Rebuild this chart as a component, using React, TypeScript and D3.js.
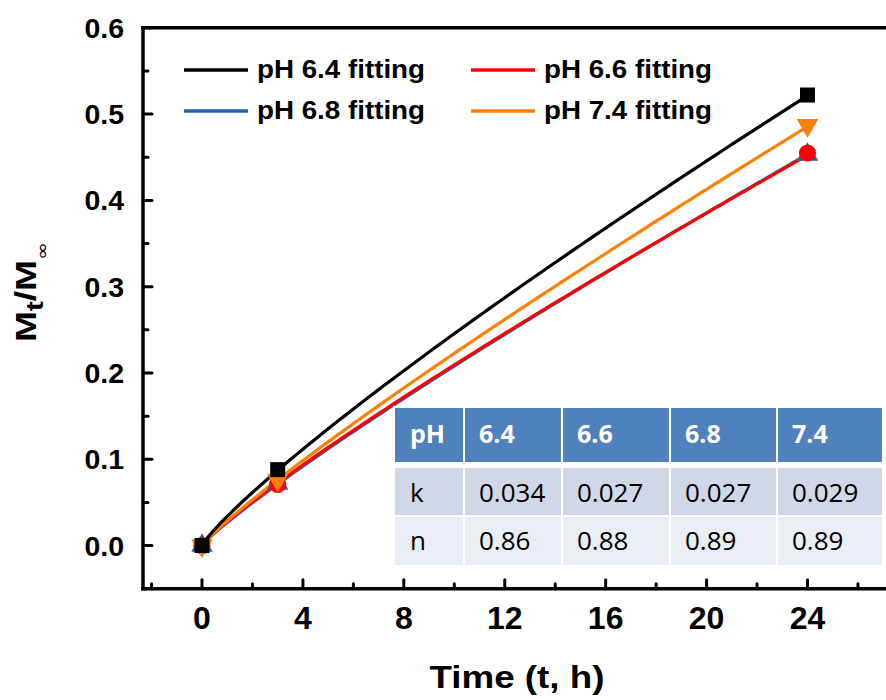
import React from 'react';
import * as d3 from 'd3';

// ---- data ----
const phLabels = ['6.4', '6.6', '6.8', '7.4'];
const kLabels = ['0.034', '0.027', '0.027', '0.029'];
const nLabels = ['0.86', '0.88', '0.89', '0.89'];
// fitted-curve parameters (k read so that each curve meets its 24 h point as drawn)
const kFit = [0.0339, 0.0276, 0.0268, 0.0287];
const nFit = [0.86, 0.88, 0.89, 0.89];
const times = [0, 3, 24];
const release64 = [0, 0.088, 0.522];
const release66 = [0, 0.071, 0.455];
const release68 = [0, 0.072, 0.453];
const release74 = [0, 0.076, 0.487];
const xTicks = [0, 4, 8, 12, 16, 20, 24];
const yTicks = [0, 0.1, 0.2, 0.3, 0.4, 0.5, 0.6];

const W = 886;
const H = 700;
const FONT = '"Liberation Sans", Arial, sans-serif';

type Marker = 'square' | 'circle' | 'triUp' | 'triDown';

export default function App() {
  const x = d3.scaleLinear().domain([0, 24]).range([202, 807.5]);
  const y = d3.scaleLinear().domain([0, 0.6]).range([545.6, 27.8]);
  const xMin = x.invert(143);
  const xMax = x.invert(W);
  const yMin = -0.05;
  const left = x(xMin);
  const right = x(xMax);
  const bottom = y(yMin);
  const top = y(0.6);

  const series = [
    { name: 'pH 6.8', color: '#1f62b8', marker: 'triUp' as Marker, k: kFit[2], n: nFit[2], vals: release68 },
    { name: 'pH 6.6', color: '#ff0000', marker: 'circle' as Marker, k: kFit[1], n: nFit[1], vals: release66 },
    { name: 'pH 7.4', color: '#ff8000', marker: 'triDown' as Marker, k: kFit[3], n: nFit[3], vals: release74 },
    { name: 'pH 6.4', color: '#000000', marker: 'square' as Marker, k: kFit[0], n: nFit[0], vals: release64 },
  ];

  const tGrid = d3.range(0, 24.001, 0.2);

  const symbolPath = (m: Marker) => {
    if (m === 'square') return d3.symbol(d3.symbolSquare, 225)();
    if (m === 'circle') return d3.symbol(d3.symbolCircle, 230)();
    return d3.symbol(d3.symbolTriangle, 200)();
  };

  const xMinor = d3.range(-2, 27, 2).filter((v) => v % 4 !== 0);
  const yMinor = d3.range(-0.05, 0.6, 0.1);

  const legendItems = [
    { label: 'pH 6.4 fitting', color: '#000000', lx: 184, ty: 70 },
    { label: 'pH 6.6 fitting', color: '#ff0000', lx: 471, ty: 70 },
    { label: 'pH 6.8 fitting', color: '#1f62b8', lx: 184, ty: 111 },
    { label: 'pH 7.4 fitting', color: '#ff8000', lx: 471, ty: 111 },
  ];

  // table layout
  const colEdges = [395, 465, 563, 671, 778, 884];
  const rowEdges = [[408, 462], [468, 515], [517, 565]];
  const rowFills = ['#4f81bd', '#d0d8e8', '#e9edf4'];
  const rows = [
    ['pH', ...phLabels],
    ['k', ...kLabels],
    ['n', ...nLabels],
  ];
  const baselines = [443, 502, 550];

  return (
    <svg width={W} height={H} style={{ position: 'absolute', left: 0, top: 0, background: '#fff' }}>
      <rect x={0} y={0} width={W} height={H} fill="#fff" />
      <defs>
        <clipPath id="plotclip">
          <rect x={left} y={top - 20} width={right - left} height={bottom - top + 20} />
        </clipPath>
      </defs>

      {/* curves */}
      <g clipPath="url(#plotclip)">
        {series.map((s) => {
          const path = d3
            .line<number>()
            .x((t) => x(t))
            .y((t) => y(s.k * Math.pow(t, s.n)))(tGrid);
          return <path key={s.name} d={path || ''} fill="none" stroke={s.color} strokeWidth={3.2} />;
        })}
        {series.map((s) =>
          times.map((t, i) => {
            const cx = x(t);
            const cy = y(s.vals[i]);
            const rot = s.marker === 'triDown' ? 180 : 0;
            return (
              <path
                key={s.name + i}
                d={symbolPath(s.marker) || ''}
                transform={`translate(${cx},${cy}) rotate(${rot})`}
                fill={s.color}
              />
            );
          })
        )}
      </g>

      {/* table */}
      <rect x={colEdges[0] - 2} y={rowEdges[0][0] - 2} width={colEdges[5] - colEdges[0] + 4} height={rowEdges[2][1] - rowEdges[0][0] + 4} fill="#fff" />
      {rows.map((r, ri) =>
        r.map((cell, ci) => (
          <g key={`${ri}-${ci}`}>
            <rect
              x={colEdges[ci]}
              y={rowEdges[ri][0]}
              width={colEdges[ci + 1] - colEdges[ci] - 2}
              height={rowEdges[ri][1] - rowEdges[ri][0]}
              fill={rowFills[ri]}
            />
            <text
              x={colEdges[ci] + (ci === 0 ? 15 : 14)}
              y={baselines[ri]}
              fontFamily='"Open Sans", sans-serif'
              fontSize={ri === 0 ? 25 : 26}
              fontWeight={ri === 0 ? 700 : 400}
              fill={ri === 0 ? '#ffffff' : '#000000'}
            >
              {cell}
            </text>
          </g>
        ))
      )}

      {/* axes frame */}
      <g stroke="#000" strokeWidth={3.5} fill="none" strokeLinecap="square">
        <line x1={left} y1={top} x2={left} y2={bottom} />
        <line x1={left} y1={bottom} x2={right} y2={bottom} />
        <line x1={left} y1={top} x2={right} y2={top} />
      </g>
      {/* ticks */}
      <g stroke="#000" strokeWidth={3} strokeLinecap="round">
        {xTicks.map((t) => (
          <line key={'xt' + t} x1={x(t)} x2={x(t)} y1={bottom} y2={bottom - 9} />
        ))}
        {xMinor.map((t) => (
          <line key={'xm' + t} x1={x(t)} x2={x(t)} y1={bottom} y2={bottom - 5} />
        ))}
        {yTicks.map((v) => (
          <line key={'yt' + v} x1={left} x2={left + 9} y1={y(v)} y2={y(v)} />
        ))}
        {yMinor.map((v) => (
          <line key={'ym' + v} x1={left} x2={left + 5} y1={y(v)} y2={y(v)} />
        ))}
      </g>

      {/* tick labels */}
      <g fontFamily={FONT} fontWeight={700} fill="#000">
        {xTicks.map((t) => (
          <text key={'xl' + t} x={x(t)} y={629} fontSize={32} textAnchor="middle">
            {t}
          </text>
        ))}
        {yTicks.map((v) => (
          <text key={'yl' + v} x={124} y={y(v) + 10} fontSize={28.5} textAnchor="end">
            {v.toFixed(1)}
          </text>
        ))}
      </g>

      {/* axis titles */}
      <text x={517} y={688} fontFamily={FONT} fontWeight={700} fontSize={32} textAnchor="middle" textLength={175} lengthAdjust="spacingAndGlyphs">
        Time (t, h)
      </text>
      <text transform="translate(36,342) rotate(-90) scale(1.28,1)" fontFamily={FONT} fontWeight={700} fontSize={29}>
        <tspan>M</tspan>
        <tspan fontSize={23} dy={7}>t</tspan>
        <tspan dy={-7}>/M</tspan>
        <tspan fontSize={17} fontWeight={400} fontFamily='"DejaVu Sans", sans-serif' dy={12}>∞</tspan>
      </text>

      {/* legend */}
      {legendItems.map((l) => (
        <g key={l.label}>
          <line x1={l.lx} x2={l.lx + 64} y1={l.ty} y2={l.ty} stroke={l.color} strokeWidth={3.5} />
          <text x={l.lx + 73} y={l.ty + 8} fontFamily={FONT} fontWeight={700} fontSize={25} textLength={168} lengthAdjust="spacingAndGlyphs">
            {l.label}
          </text>
        </g>
      ))}
    </svg>
  );
}
